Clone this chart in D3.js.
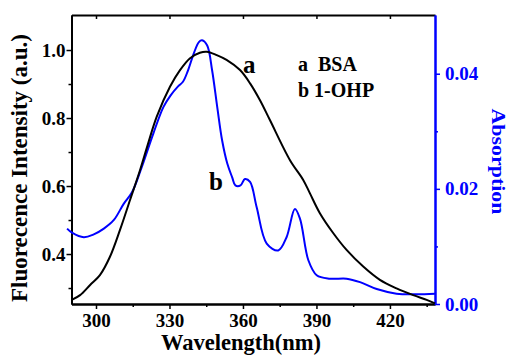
<!DOCTYPE html>
<html>
<head>
<meta charset="utf-8">
<script src="https://cdn.jsdelivr.net/npm/d3@7"></script>
<style>
  body { margin: 0; background: #fff; }
  svg text { font-family: "Liberation Serif", "Times New Roman", serif; font-weight: bold; }
</style>
</head>
<body>
<div id="chart"></div>
<script>
// curve a: BSA fluorescence (left axis)
const wlA = [290.1, 293.5, 297.6, 301.6, 305.7, 309.8, 313.9, 318.0, 320.9, 324.8, 330.2, 334.3, 338.4, 342.4, 345.2,
  349.3, 353.3, 358.8, 362.9, 366.9, 371.0, 379.2, 384.6, 387.3, 391.4, 396.9, 402.3, 409.1, 415.9, 422.7, 429.5, 435.0, 438.4];
const fluorA = [0.265, 0.279, 0.309, 0.338, 0.392, 0.471, 0.559, 0.647, 0.716, 0.804, 0.892, 0.941, 0.976, 0.992, 0.995,
  0.985, 0.971, 0.941, 0.902, 0.853, 0.794, 0.676, 0.618, 0.579, 0.520, 0.461, 0.412, 0.363, 0.324, 0.299, 0.279, 0.265, 0.255];

// curve b: 1-OHP absorption (right axis)
const wlB = [288.2, 290.2, 295.0, 299.1, 303.2, 307.3, 311.3, 314.7, 318.2, 323.4, 327.5, 330.4, 333.5, 335.5, 337.5,
  339.9, 342.0, 343.3, 345.4, 347.4, 349.5, 351.5, 353.6, 355.6, 356.9, 359.0, 360.8, 362.9, 365.6, 369.7, 374.4,
  377.8, 381.2, 383.3, 386.7, 390.1, 395.5, 402.3, 407.8, 414.6, 422.7, 430.9, 438.4];
const absB = [0.0131, 0.0124, 0.0116, 0.0121, 0.0131, 0.0146, 0.0174, 0.0194, 0.0232, 0.0296, 0.0342, 0.0362, 0.0378, 0.0386, 0.0405,
  0.0435, 0.0455, 0.0458, 0.0449, 0.0406, 0.0342, 0.0284, 0.0244, 0.0220, 0.0206, 0.0206, 0.0217, 0.0212, 0.0168, 0.0105, 0.0093,
  0.0116, 0.0165, 0.0148, 0.0076, 0.0050, 0.0044, 0.0044, 0.0038, 0.0026, 0.0018, 0.0017, 0.0018];

const xTicks = [300, 330, 360, 390, 420];
const xMinor = [315, 345, 375, 405, 435];
const leftTicks = [0.4, 0.6, 0.8, 1.0];
const leftMinor = [0.3, 0.5, 0.7, 0.9];
const rightTicks = [0.00, 0.02, 0.04];
const rightMinor = [0.01, 0.03];

const W = 510, H = 356;
const L = 71.5, R = 435, T = 15, B = 304;
const blue = "#0000ff";

const svg = d3.select("#chart").append("svg").attr("width", W).attr("height", H);

const x = d3.scaleLinear().domain([290, 438.4]).range([L, R]);
const yL = d3.scaleLinear().domain([0.253, 1.103]).range([B, T]);
const yR = d3.scaleLinear().domain([0, 0.0502]).range([B, T]);

function styleAxis(g, color) {
  g.select(".domain").attr("stroke", color).attr("stroke-width", 2);
  g.selectAll(".tick line").attr("stroke", color).attr("stroke-width", 1.5);
  g.selectAll(".tick text").attr("fill", color).style("font-size", "19px");
}

// top frame line with inward ticks
svg.append("g").attr("transform", `translate(0,${T})`)
  .call(d3.axisTop(x).tickValues(xTicks).tickSize(-4).tickSizeOuter(0).tickFormat(""))
  .call(g => styleAxis(g, "#000"));

// bottom axis
svg.append("g").attr("transform", `translate(0,${B})`)
  .call(d3.axisBottom(x).tickValues(xMinor).tickSize(3).tickSizeOuter(0).tickFormat(""))
  .call(g => styleAxis(g, "#000"));
svg.append("g").attr("transform", `translate(0,${B})`)
  .call(d3.axisBottom(x).tickValues(xTicks).tickSize(5).tickPadding(5).tickSizeOuter(0))
  .call(g => styleAxis(g, "#000"));

// left axis
svg.append("g").attr("transform", `translate(${L},0)`)
  .call(d3.axisLeft(yL).tickValues(leftMinor).tickSize(3).tickSizeOuter(0).tickFormat(""))
  .call(g => styleAxis(g, "#000"));
svg.append("g").attr("transform", `translate(${L},0)`)
  .call(d3.axisLeft(yL).tickValues(leftTicks).tickSize(5).tickPadding(1).tickSizeOuter(0).tickFormat(d3.format(".1f")))
  .call(g => styleAxis(g, "#000"));

// right axis (blue)
svg.append("g").attr("transform", `translate(${R},0)`)
  .call(d3.axisRight(yR).tickValues(rightMinor).tickSize(3).tickSizeOuter(0).tickFormat(""))
  .call(g => styleAxis(g, blue));
svg.append("g").attr("transform", `translate(${R},0)`)
  .call(d3.axisRight(yR).tickValues(rightTicks).tickSize(5).tickPadding(5).tickSizeOuter(0).tickFormat(d3.format(".2f")))
  .call(g => styleAxis(g, blue));

// curves
const lineA = d3.line().x((d, i) => x(wlA[i])).y(d => yL(d)).curve(d3.curveCatmullRom);
const lineB = d3.line().x((d, i) => x(wlB[i])).y(d => yR(d)).curve(d3.curveCatmullRom);

svg.append("path").datum(absB).attr("d", lineB)
  .attr("fill", "none").attr("stroke", blue).attr("stroke-width", 2);
svg.append("path").datum(fluorA).attr("d", lineA)
  .attr("fill", "none").attr("stroke", "#000").attr("stroke-width", 2);

// curve labels
svg.append("text").attr("x", 243).attr("y", 73).style("font-size", "25px").text("a");
svg.append("text").attr("x", 209).attr("y", 190).style("font-size", "25px").text("b");

// legend text
svg.append("text").attr("x", 298).attr("y", 71).style("font-size", "20px").attr("xml:space", "preserve").text("a  BSA");
svg.append("text").attr("x", 298).attr("y", 97).style("font-size", "20px").text("b 1-OHP");

// axis titles
svg.append("text").attr("x", 241).attr("y", 350).attr("text-anchor", "middle")
  .style("font-size", "22.5px").text("Wavelength(nm)");
svg.append("text").attr("transform", "translate(27,168) rotate(-90)").attr("text-anchor", "middle")
  .style("font-size", "23px").text("Fluorecence Intensity (a.u.)");
svg.append("text").attr("transform", "translate(492,161.5) rotate(90)").attr("text-anchor", "middle")
  .attr("textLength", 106).attr("lengthAdjust", "spacingAndGlyphs")
  .attr("fill", blue).style("font-size", "18px").text("Absorption");
</script>
</body>
</html>
